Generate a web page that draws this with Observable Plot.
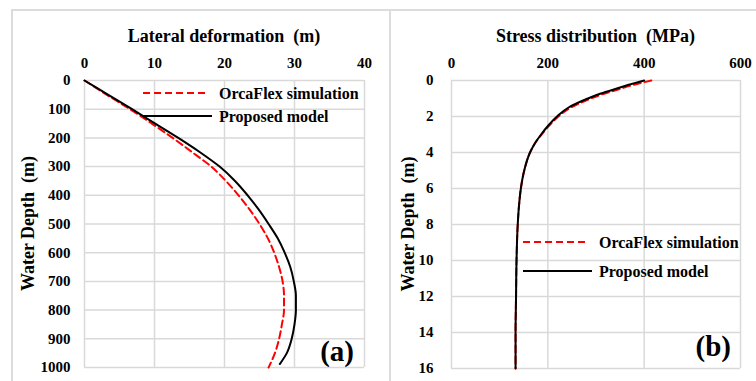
<!DOCTYPE html>
<html><head><meta charset="utf-8">
<script src="https://cdn.jsdelivr.net/npm/d3@7"></script>
<script src="https://cdn.jsdelivr.net/npm/@observablehq/plot@0.6"></script>
<style>
body{margin:0;background:#fff;}
#wrap{position:relative;width:756px;height:381px;overflow:hidden;font-family:"Liberation Serif","Times New Roman",serif;font-weight:bold;}
.fr{position:absolute;background:#dcdcdc;}
#pa,#pb{position:absolute;top:0;}
#pa{left:0;} #pb{left:380px;}
</style></head><body>
<div id="wrap">
<div class="fr" style="left:12px;top:9px;width:744px;height:2px"></div>
<div class="fr" style="left:11px;top:9px;width:2px;height:372px"></div>
<div class="fr" style="left:389px;top:9px;width:2px;height:372px"></div>
<div id="pa"></div><div id="pb"></div>
</div>
<script>
// ---- Panel (a): Lateral deformation ----
const depthPropA = [0, 50, 100, 150, 200, 250, 300, 350, 400, 450, 500, 550, 600, 650, 700, 750, 800, 850, 900, 950, 988];
const propA      = [0, 3.4, 6.8, 10.1, 13.4, 16.5, 19.3, 21.5, 23.3, 24.9, 26.3, 27.6, 28.6, 29.4, 29.9, 30.2, 30.2, 30.0, 29.6, 28.9, 27.9];
const depthOrcaA = [0, 50, 100, 150, 200, 250, 300, 350, 400, 450, 500, 550, 600, 650, 700, 750, 800, 850, 900, 950, 1000];
const orcaA      = [0, 3.2, 6.5, 9.6, 12.6, 15.4, 18.1, 20.2, 22.0, 23.6, 25.0, 26.2, 27.1, 27.8, 28.3, 28.5, 28.5, 28.2, 27.8, 27.2, 26.3];
const xTicksA = [0, 10, 20, 30, 40];
const yTicksA = [0, 100, 200, 300, 400, 500, 600, 700, 800, 900, 1000];

// ---- Panel (b): Stress distribution ----
const depthB = [0, 0.25, 0.5, 0.75, 1.0, 1.5, 2.0, 2.5, 3.0, 3.5, 4.0, 5, 6, 7, 8, 10, 12, 14, 16];
const propB  = [400, 366, 337, 307, 283, 243, 219, 201, 186, 173, 163, 151, 144, 140, 137.5, 135, 134, 133, 133];
const orcaB  = [415, 377, 346, 315, 290, 248, 222, 203, 187, 173, 163, 151, 144, 140, 137.5, 135, 134, 133, 133];
const xTicksB = [0, 200, 400, 600];
const yTicksB = [0, 2, 4, 6, 8, 10, 12, 14, 16];

const labels = {
  titleA: "Lateral deformation  (m)",
  titleB: "Stress distribution  (MPa)",
  yLabel: "Water Depth  (m)",
  orca: "OrcaFlex simulation",
  prop: "Proposed model",
  panelA: "(a)",
  panelB: "(b)"
};

const toRows = (ds, vs) => ds.map((d, i) => ({d, v: vs[i]}));
const FONT = "Liberation Serif, Times New Roman, serif";

function panel(el, o) {
  const grid = {stroke: "#d9d9d9", strokeOpacity: 1, strokeWidth: 1.5};
  const chart = Plot.plot({
    width: o.width, height: 381,
    marginLeft: o.ml, marginRight: o.mr, marginTop: 80, marginBottom: o.mb,
    style: {fontFamily: FONT, fontSize: "15px", fontWeight: "bold", background: "none", color: "#000", overflow: "visible"},
    x: {domain: o.xDomain},
    y: {domain: o.yDomain, reverse: true},
    marks: [
      Plot.gridX(o.xTicks, grid),
      Plot.gridY(o.yTicks, grid),
      Plot.axisX(o.xTicks, {anchor: "top", tickSize: 0, tickPadding: 13, label: null, tickFormat: "d"}),
      Plot.axisY(o.yTicks, {anchor: "left", tickSize: 0, tickPadding: o.yPad, label: null, tickFormat: "d"}),
      Plot.line(o.orca, {x: "v", y: "d", curve: "monotone-y", stroke: "#ff0000", strokeWidth: 2, strokeDasharray: "7,4"}),
      Plot.line(o.prop, {x: "v", y: "d", curve: "monotone-y", stroke: "#000", strokeWidth: 2})
    ]
  });
  const svg = d3.select(chart);
  const cx = (o.ml + (o.width - o.mr)) / 2;
  const cy = (80 + (381 - o.mb)) / 2;
  svg.append("text").attr("x", cx).attr("y", 42).attr("text-anchor", "middle")
    .attr("font-size", 18).attr("font-weight", "bold").attr("font-family", FONT)
    .style("white-space", "pre").text(o.title);
  svg.append("text").attr("transform", `translate(${o.labX},${cy}) rotate(-90)`)
    .attr("text-anchor", "middle").attr("dy", "0.35em")
    .attr("font-size", 18).attr("font-weight", "bold").attr("font-family", FONT)
    .style("white-space", "pre").text(labels.yLabel);
  // legend
  const lg = svg.append("g").attr("font-size", 16).attr("font-weight", "bold")
    .attr("font-family", FONT).attr("text-anchor", "start");
  lg.append("line").attr("x1", 143).attr("x2", 207).attr("y1", o.lgY[0]).attr("y2", o.lgY[0])
    .attr("stroke", "#ff0000").attr("stroke-width", 2).attr("stroke-dasharray", "7,4");
  lg.append("text").attr("x", 219).attr("y", o.lgY[0] + 6).text(labels.orca);
  lg.append("line").attr("x1", 143).attr("x2", 212).attr("y1", o.lgY[1]).attr("y2", o.lgY[1])
    .attr("stroke", "#000").attr("stroke-width", 2);
  lg.append("text").attr("x", 219).attr("y", o.lgY[1] + 6).text(labels.prop);
  svg.append("text").attr("x", o.plX).attr("y", o.plY).attr("text-anchor", "end")
    .attr("font-size", 29).attr("font-weight", "bold").attr("font-family", FONT).text(o.pl);
  document.getElementById(el).appendChild(chart);
}

panel("pa", {
  width: 382, ml: 84, mr: 18, mb: 14, yPad: 14,
  xDomain: [0, 40], yDomain: [0, 1000], xTicks: xTicksA, yTicks: yTicksA,
  orca: toRows(depthOrcaA, orcaA), prop: toRows(depthPropA, propA),
  title: labels.titleA, labX: 28, lgY: [93, 116], pl: labels.panelA, plX: 354, plY: 361
});
panel("pb", {
  width: 376, ml: 71, mr: 16, mb: 13, yPad: 18,
  xDomain: [0, 600], yDomain: [0, 16], xTicks: xTicksB, yTicks: yTicksB,
  orca: toRows(depthB, orcaB), prop: toRows(depthB, propB),
  title: labels.titleB, labX: 28, lgY: [242, 271], pl: labels.panelB, plX: 351, plY: 356
});
</script>
</body></html>
